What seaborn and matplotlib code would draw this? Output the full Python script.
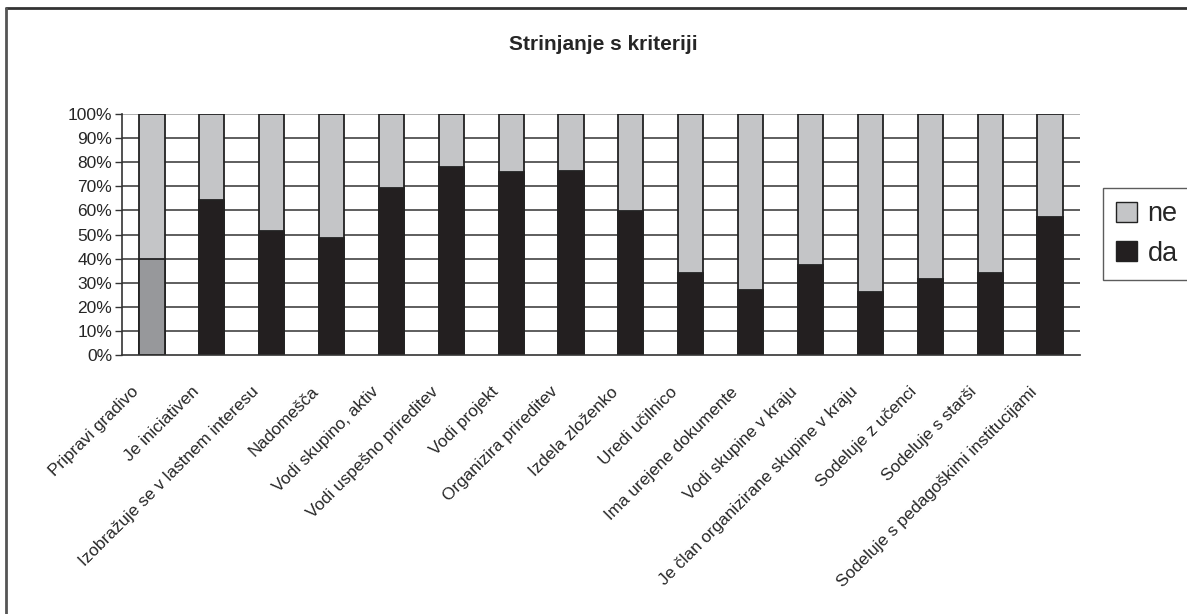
import matplotlib
matplotlib.use("Agg")
import matplotlib.pyplot as plt
import matplotlib.patches as mpatches
import matplotlib.lines as mlines
import matplotlib.transforms as mtrans
import seaborn as sns
import numpy as np

sns.set_theme(style="white")
plt.rcParams["font.family"] = ["Liberation Sans", "DejaVu Sans"]

kriteriji = [
    "Pripravi gradivo", "Je iniciativen", "Izobražuje se v lastnem interesu",
    "Nadomešča", "Vodi skupino, aktiv", "Vodi uspešno prireditev",
    "Vodi projekt", "Organizira prireditev", "Izdela zloženko",
    "Uredi učilnico", "Ima urejene dokumente", "Vodi skupine v kraju",
    "Je član organizirane skupine v kraju", "Sodeluje z učenci",
    "Sodeluje s starši", "Sodeluje s pedagoškimi institucijami",
]
da = [40, 64.5, 51.5, 48.5, 69.3, 78, 75.8, 76.4, 59.7, 34.2, 26.8, 37.3, 26.1, 31.6, 34.2, 57.4]
ne = [100 - v for v in da]

barva_ne = "#c4c5c7"
barva_da = "#231f20"
barve_da = ["#97989b"] + [barva_da] * (len(kriteriji) - 1)

fig = plt.figure(figsize=(11.87, 6.14), dpi=100)
ax = fig.add_axes([0.1028, 0.4218, 0.807, 0.3925])

skupaj = [a + b for a, b in zip(da, ne)]
sns.barplot(x=kriteriji, y=skupaj, color=barva_ne, width=0.42,
            edgecolor="#222222", linewidth=1.3, ax=ax, saturation=1)
sns.barplot(x=kriteriji, y=da, hue=kriteriji, palette=barve_da, width=0.42,
            edgecolor="#222222", linewidth=1.3, ax=ax, legend=False, saturation=1)

ax.set_xlim(-0.5, len(kriteriji) - 0.5)
ax.set_ylim(0, 100)
ax.set_yticks(np.arange(0, 101, 10))
ax.set_yticklabels([f"{v}%" for v in range(0, 101, 10)], fontsize=12.5)
for y in range(10, 101, 10):
    ax.axhline(y, color="#333333" if y < 100 else "#999999", lw=1.1, zorder=0)
ax.set_axisbelow(True)

for s in ["top", "right"]:
    ax.spines[s].set_visible(False)
ax.spines["left"].set_color("#333333")
ax.spines["bottom"].set_color("#333333")
ax.spines["left"].set_linewidth(1.2)
ax.spines["bottom"].set_linewidth(1.2)

# oznake med kategorijami
ax.set_xticks(np.arange(len(kriteriji)))
ax.set_xticks(np.arange(-0.5, len(kriteriji) - 0.4, 1), minor=True)
ax.tick_params(axis="x", which="major", length=0, pad=0)
ax.tick_params(axis="x", which="minor", length=5, color="#333333", width=1)
ax.tick_params(axis="y", length=5, color="#333333", width=1, left=True, pad=2)
ax.set_xticklabels(kriteriji, rotation=45, ha="right", rotation_mode="anchor", fontsize=12.3)
odmik = mtrans.ScaledTranslation(-15 / 72, -21 / 72, fig.dpi_scale_trans)
for lab in ax.get_xticklabels():
    lab.set_transform(lab.get_transform() + odmik)
ax.set_xlabel("")

fig.text(0.508, 0.927, "Strinjanje s kriteriji", ha="center", va="center",
         fontsize=15, fontweight="bold")

ročke = [mpatches.Patch(facecolor=barva_ne, edgecolor="#222222", label="ne"),
         mpatches.Patch(facecolor=barva_da, edgecolor="#222222", label="da")]
leg = fig.legend(handles=ročke, loc="center left", bbox_to_anchor=(0.929, 0.619),
                 fontsize=19.5, frameon=True, fancybox=False, edgecolor="#333333",
                 handlelength=0.75, handleheight=0.75, handletextpad=0.4,
                 borderpad=0.5, labelspacing=0.5, borderaxespad=0)
leg.get_frame().set_linewidth(1)

# okvir slike (zgoraj in levo)
fig.add_artist(mlines.Line2D([6 / 1187, 1], [1 - 8 / 614] * 2, transform=fig.transFigure,
                             color="#333333", lw=2))
fig.add_artist(mlines.Line2D([6 / 1187] * 2, [0, 1 - 8 / 614], transform=fig.transFigure,
                             color="#555555", lw=2))

fig.savefig("out.png", dpi=100)
